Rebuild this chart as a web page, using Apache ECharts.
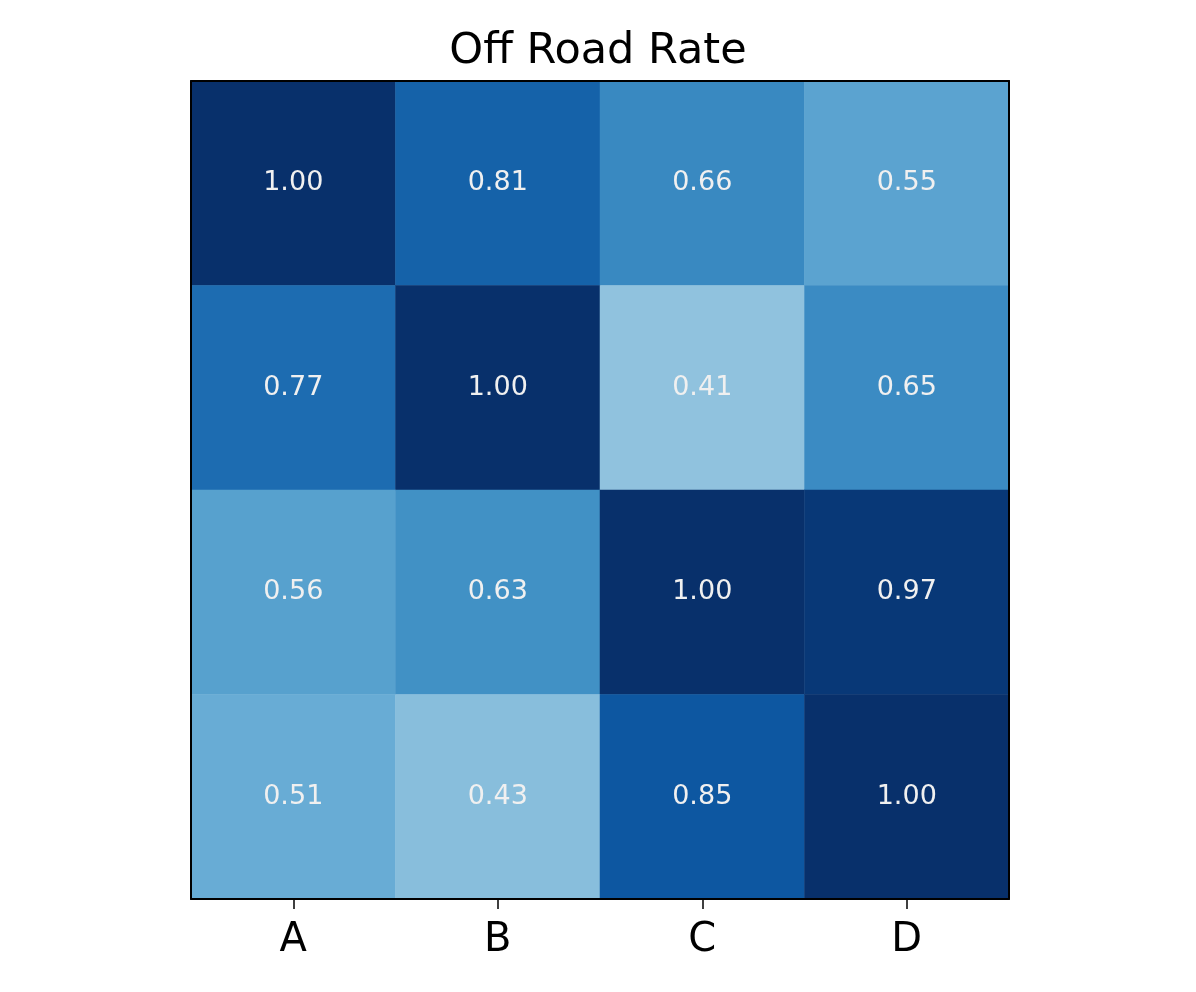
<!DOCTYPE html>
<html>
<head>
<meta charset="utf-8">
<script src="https://cdn.jsdelivr.net/npm/echarts@6/dist/echarts.min.js"></script>
<style>
html,body{margin:0;padding:0;background:#fff;}
#chart{width:1196px;height:992px;}
</style>
</head>
<body>
<div id="chart"></div>
<script>
const title = "Off Road Rate";
const columns = ["A", "B", "C", "D"];
const rows = ["r0", "r1", "r2", "r3"];
const row0 = [1.00, 0.81, 0.66, 0.55];
const row1 = [0.77, 1.00, 0.41, 0.65];
const row2 = [0.56, 0.63, 1.00, 0.97];
const row3 = [0.51, 0.43, 0.85, 1.00];
const blues = ["#f7fbff", "#deebf7", "#c6dbef", "#9ecae1", "#6baed6", "#4292c6", "#2171b5", "#08519c", "#08306b"];

const matrix = [row0, row1, row2, row3];
const data = [];
matrix.forEach((r, i) => r.forEach((v, j) => data.push([j, i, v])));

const font = "DejaVu Sans";
const chart = echarts.init(document.getElementById('chart'));
const frameLine = { show: true, lineStyle: { color: '#000', width: 2 } };
chart.setOption({
  animation: false,
  backgroundColor: '#fff',
  title: {
    text: title, left: 'center', top: 25,
    textStyle: { fontFamily: font, fontSize: 43, fontWeight: 'normal', color: '#000' }
  },
  grid: { left: 191, top: 81, width: 818, height: 818 },
  visualMap: { show: false, min: 0, max: 1, inRange: { color: blues }, dimension: 2 },
  xAxis: [
    { type: 'category', data: columns, position: 'bottom', z: 10,
      axisLine: frameLine,
      axisTick: { show: true, alignWithLabel: true, length: 10, lineStyle: { color: '#000', width: 1.5 } },
      axisLabel: { fontFamily: font, fontSize: 40, color: '#000', margin: 22 },
      splitLine: { show: false } },
    { type: 'category', data: columns, position: 'top', z: 10,
      axisLine: frameLine, axisTick: { show: false }, axisLabel: { show: false } }
  ],
  yAxis: [
    { type: 'category', data: rows, inverse: true, position: 'left', z: 10,
      axisLine: frameLine, axisTick: { show: false }, axisLabel: { show: false } },
    { type: 'category', data: rows, inverse: true, position: 'right', z: 10,
      axisLine: frameLine, axisTick: { show: false }, axisLabel: { show: false } }
  ],
  series: [{
    type: 'heatmap', data: data, xAxisIndex: 0, yAxisIndex: 0,
    label: {
      show: true, fontFamily: font, fontSize: 27, color: '#f0f0f0',
      formatter: p => p.value[2].toFixed(2)
    },
    itemStyle: { borderWidth: 0 },
    emphasis: { disabled: true }
  }]
});
</script>
</body>
</html>
